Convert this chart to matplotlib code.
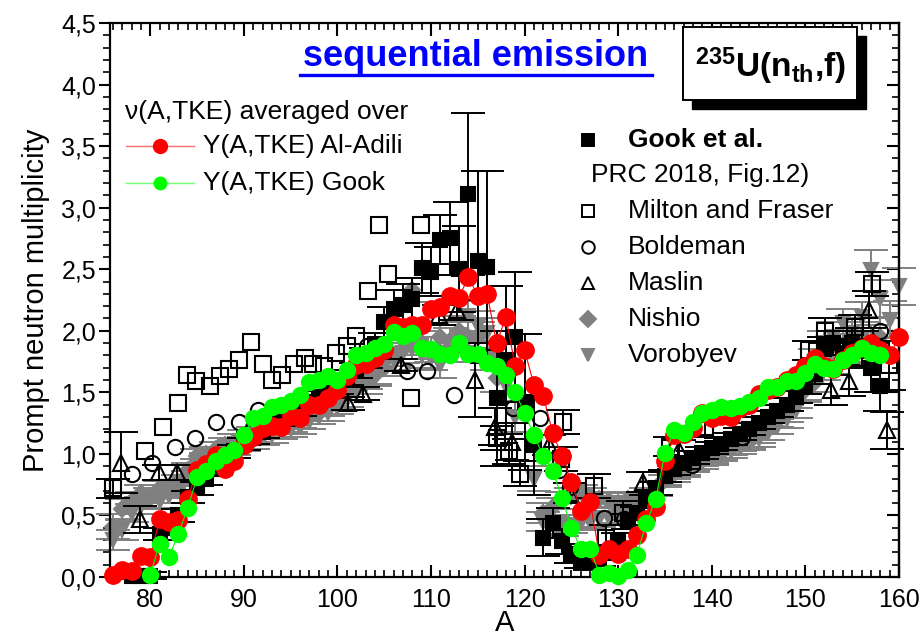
import numpy as np
import matplotlib
matplotlib.use("Agg")
import matplotlib.pyplot as plt
from matplotlib.ticker import MultipleLocator, FuncFormatter
from matplotlib.patches import Rectangle
from matplotlib.lines import Line2D

plt.rcParams["font.family"] = ["Liberation Sans", "DejaVu Sans"]
plt.rcParams["mathtext.fontset"] = "custom"
plt.rcParams["mathtext.rm"] = "Liberation Sans"
plt.rcParams["mathtext.bf"] = "Liberation Sans:bold"

# nu(A) averaged over Y(A,TKE) of Al-Adili
a_adili = list(range(76, 161))
nu_adili = [0.02, 0.06, 0.05, 0.17, 0.16, 0.47, 0.45, 0.46, 0.63, 0.87,
            0.92, 0.99, 0.88, 0.94, 1.07, 1.14, 1.21, 1.23, 1.22, 1.31,
            1.29, 1.40, 1.40, 1.45, 1.52, 1.63, 1.72, 1.73, 1.78, 1.84,
            2.05, 2.03, 2.05, 2.05, 2.18, 2.19, 2.28, 2.27, 2.44, 2.28,
            2.30, 1.90, 2.11, 1.71, 1.84, 1.56, 1.47, 1.17, 0.98, 0.77,
            0.54, 0.61, 0.18, 0.23, 0.19, 0.23, 0.34, 0.47, 0.57, 0.94,
            1.15, 1.16, 1.21, 1.33, 1.29, 1.31, 1.30, 1.37, 1.40, 1.49,
            1.52, 1.54, 1.60, 1.64, 1.71, 1.78, 1.71, 1.69, 1.76, 1.82,
            1.86, 1.90, 1.84, 1.80, 1.95]

# nu(A) averaged over Y(A,TKE) of Gook
a_gook_y = list(range(80, 159))
nu_gook_y = [0.02, 0.27, 0.16, 0.35, 0.56, 0.81, 0.86, 0.94, 0.99, 1.03,
             1.15, 1.29, 1.31, 1.38, 1.40, 1.43, 1.48, 1.58, 1.60, 1.63,
             1.60, 1.68, 1.80, 1.82, 1.86, 1.89, 1.99, 1.96, 1.98, 1.86,
             1.85, 1.81, 1.80, 1.90, 1.81, 1.81, 1.74, 1.71, 1.64, 1.50,
             1.33, 1.15, 0.98, 0.86, 0.64, 0.40, 0.23, 0.23, 0.02, 0.03,
             0.01, 0.06, 0.18, 0.44, 0.63, 1.01, 1.19, 1.17, 1.26, 1.33,
             1.36, 1.38, 1.37, 1.39, 1.42, 1.45, 1.54, 1.54, 1.59, 1.59,
             1.66, 1.73, 1.70, 1.69, 1.76, 1.80, 1.86, 1.82, 1.80]

# Gook et al. PRC 2018
a_exp = list(range(78, 159))
nu_exp = [0.01, 0.01, 0.01, 0.35, 0.40, 0.50, 0.65, 0.72, 0.80, 0.88,
          0.95, 1.02, 1.08, 1.13, 1.18, 1.25, 1.28, 1.32, 1.36, 1.42,
          1.46, 1.50, 1.55, 1.62, 1.68, 1.78, 1.88, 2.07, 2.18, 2.21,
          2.26, 2.51, 2.48, 2.74, 2.75, 2.50, 3.11, 2.57, 2.52, 1.45,
          1.76, 1.95, 1.42, 1.07, 0.32, 0.44, 0.29, 0.19, 0.15, 0.12,
          0.15, 0.20, 0.30, 0.45, 0.52, 0.62, 0.72, 0.82, 0.88, 0.93,
          0.97, 1.01, 1.05, 1.08, 1.12, 1.16, 1.20, 1.25, 1.30, 1.35,
          1.40, 1.46, 1.55, 1.65, 1.85, 1.90, 1.82, 1.90, 1.85, 1.70,
          1.55]
err_exp = [0.03, 0.03, 0.03, 0.05, 0.05, 0.05, 0.05, 0.05, 0.05, 0.05,
           0.05, 0.05, 0.05, 0.05, 0.05, 0.05, 0.05, 0.05, 0.05, 0.05,
           0.05, 0.05, 0.06, 0.06, 0.06, 0.08, 0.10, 0.12, 0.15, 0.17,
           0.17, 0.20, 0.20, 0.20, 0.30, 0.35, 0.66, 0.73, 0.78, 0.55,
           0.60, 0.53, 0.55, 0.40, 0.15, 0.12, 0.10, 0.08, 0.08, 0.06,
           0.06, 0.06, 0.06, 0.06, 0.05, 0.05, 0.05, 0.05, 0.05, 0.05,
           0.05, 0.05, 0.05, 0.05, 0.05, 0.05, 0.05, 0.05, 0.05, 0.05,
           0.05, 0.05, 0.06, 0.08, 0.10, 0.10, 0.10, 0.12, 0.15, 0.20,
           0.20]

# Milton and Fraser
a_milton = [76.0, 79.4, 81.4, 83.0, 83.9, 84.9, 86.4, 87.4, 88.4, 89.5,
            90.8, 92.1, 93.0, 94.1, 95.4, 96.5, 97.4, 98.6, 99.9, 101.0,
            102.0, 103.3, 104.4, 105.4, 107.9, 108.9, 117.1, 118.3, 119.5, 123.9,
            124.1, 127.4, 128.7, 130.5, 135.5, 139.3, 150.4, 152.1, 155.3, 157.1,
            158.9]
nu_milton = [0.72, 1.02, 1.22, 1.41, 1.64, 1.59, 1.55, 1.63, 1.69, 1.76,
             1.91, 1.73, 1.60, 1.64, 1.73, 1.78, 1.73, 1.71, 1.82, 1.88,
             1.96, 2.32, 2.86, 2.46, 1.45, 2.86, 1.13, 1.02, 0.84, 0.96,
             1.26, 0.74, 0.32, 0.52, 1.06, 1.22, 1.84, 2.00, 2.03, 2.38,
             1.72]
err_milton = [0.08, 0.0, 0.0, 0.0, 0.0, 0.0, 0.0, 0.0, 0.0, 0.0,
              0.0, 0.0, 0.0, 0.0, 0.0, 0.0, 0.0, 0.0, 0.0, 0.0,
              0.0, 0.0, 0.0, 0.0, 0.0, 0.0, 0.10, 0.10, 0.10, 0.10,
              0.10, 0.10, 0.10, 0.10, 0.08, 0.08, 0.08, 0.10, 0.10, 0.10,
              0.20]

# Boldeman
a_bold = [78.0, 80.2, 82.6, 84.8, 87.0, 89.5, 91.5, 103.2, 107.4, 109.6,
          112.5, 118.8, 121.6, 123.7, 124.8, 128.5, 130.6, 137.9, 143.2, 158.0]
nu_bold = [0.84, 0.93, 1.06, 1.13, 1.26, 1.26, 1.36, 1.88, 1.67, 1.67,
           1.48, 1.37, 1.29, 0.87, 0.73, 0.48, 0.47, 0.91, 1.14, 2.00]

# Maslin
a_maslin = [76.9, 78.9, 80.9, 82.9, 101.1, 102.7, 106.8, 110.9, 112.8, 114.7,
            116.8, 118.7, 122.6, 124.8, 132.6, 136.5, 152.7, 154.7, 156.8, 158.7]
nu_maslin = [0.93, 0.47, 0.85, 0.85, 1.41, 1.49, 1.72, 2.13, 2.17, 1.60,
             1.22, 1.10, 1.07, 0.68, 0.77, 1.03, 1.52, 1.59, 2.17, 1.19]
err_maslin = [0.25, 0.11, 0.06, 0.06, 0.05, 0.05, 0.05, 0.08, 0.08, 0.30,
              0.15, 0.15, 0.08, 0.08, 0.08, 0.08, 0.12, 0.12, 0.15, 0.15]

# Nishio
a_nishio = list(range(76, 118)) + list(range(122, 159))
nu_nishio = [0.41, 0.55, 0.62, 0.68, 0.66, 0.72, 0.73, 0.77, 0.87, 0.98,
             1.00, 1.04, 1.07, 1.10, 1.13, 1.16, 1.18, 1.20, 1.22, 1.24,
             1.27, 1.30, 1.33, 1.37, 1.43, 1.50, 1.55, 1.60, 1.64, 1.70,
             1.79, 1.85, 2.33, 1.90, 1.85, 1.95, 1.92, 2.00, 1.95, 1.95,
             1.80, 1.62,
             0.52, 0.57, 0.62, 0.66, 0.69, 0.66, 0.63, 0.62, 0.60, 0.63,
             0.62, 0.66, 0.72,
             0.80, 0.85, 0.88, 0.92, 0.95, 0.98, 1.01, 1.04, 1.07, 1.10,
             1.15, 1.22, 1.28, 1.33, 1.44, 1.52, 1.58, 1.70, 1.75, 1.80,
             1.85, 1.95, 1.90, 1.95]
err_nishio = [0.10, 0.08, 0.07, 0.07, 0.06, 0.06, 0.06, 0.06, 0.06, 0.06,
              0.06, 0.06, 0.06, 0.06, 0.06, 0.06, 0.06, 0.06, 0.06, 0.06,
              0.06, 0.06, 0.06, 0.06, 0.06, 0.06, 0.06, 0.07, 0.07, 0.07,
              0.08, 0.08, 0.10, 0.10, 0.10, 0.10, 0.10, 0.12, 0.12, 0.12,
              0.12, 0.12,
              0.08, 0.07, 0.07, 0.06, 0.06, 0.06, 0.06, 0.06, 0.06, 0.06,
              0.06, 0.06, 0.06,
              0.05, 0.05, 0.05, 0.05, 0.05, 0.05, 0.05, 0.05, 0.05, 0.05,
              0.06, 0.06, 0.06, 0.07, 0.07, 0.08, 0.08, 0.10, 0.10, 0.10,
              0.12, 0.12, 0.15, 0.15]

# Vorobyev
a_vorob = list(range(76, 120)) + list(range(121, 133)) + list(range(135, 161))
nu_vorob = [0.30, 0.38, 0.52, 0.58, 0.62, 0.62, 0.66, 0.70, 0.80, 0.90,
            0.95, 0.98, 1.00, 1.05, 1.08, 1.10, 1.13, 1.15, 1.18, 1.20,
            1.22, 1.26, 1.30, 1.33, 1.38, 1.44, 1.50, 1.56, 1.62, 1.70,
            1.76, 1.82, 1.85, 1.80, 1.78, 1.72, 1.85, 1.95, 2.12, 2.04,
            1.98, 1.80, 1.55, 1.30,
            0.80, 0.45, 0.42, 0.40, 0.42, 0.44, 0.45, 0.47, 0.48, 0.50,
            0.52, 0.55,
            0.78, 0.82, 0.86, 0.90, 0.93, 0.96, 0.99, 1.02, 1.05, 1.08,
            1.12, 1.17, 1.22, 1.28, 1.36, 1.50, 1.75, 1.90, 1.95, 2.06,
            1.98, 2.11, 2.49, 2.26, 2.09, 2.36]
err_vorob = [0.08, 0.08, 0.07, 0.07, 0.07, 0.06, 0.06, 0.06, 0.06, 0.06,
             0.06, 0.06, 0.06, 0.06, 0.06, 0.06, 0.06, 0.06, 0.06, 0.06,
             0.06, 0.06, 0.06, 0.06, 0.06, 0.06, 0.06, 0.07, 0.07, 0.07,
             0.08, 0.08, 0.08, 0.10, 0.10, 0.10, 0.10, 0.12, 0.12, 0.12,
             0.12, 0.12, 0.12, 0.12,
             0.10, 0.08, 0.07, 0.07, 0.06, 0.06, 0.06, 0.06, 0.06, 0.06,
             0.06, 0.06,
             0.05, 0.05, 0.05, 0.05, 0.05, 0.05, 0.05, 0.05, 0.05, 0.05,
             0.06, 0.06, 0.06, 0.07, 0.07, 0.08, 0.10, 0.10, 0.12, 0.12,
             0.12, 0.12, 0.17, 0.15, 0.15, 0.15]

RED = "#ff0000"
GREEN = "#00ff00"
GREY = "#808080"

W, H = 921, 636
fig = plt.figure(figsize=(W / 100, H / 100), dpi=100)
AX_L, AX_R, AX_T, AX_B = 110, 899, 23, 577
ax = fig.add_axes([AX_L / W, 1 - AX_B / H, (AX_R - AX_L) / W, (AX_B - AX_T) / H])
ax.set_xlim(75.7, 160)
ax.set_ylim(0, 4.5)


def px_ax(px, py):
    # pixel position -> axes fraction
    return (px - AX_L) / (AX_R - AX_L), (AX_B - py) / (AX_B - AX_T)


def px_fig(px, py):
    return px / W, 1 - py / H


def err_plot(x, y, e, color, marker, ms, filled, zo):
    x = np.asarray(x, float)
    y = np.asarray(y, float)
    e = np.asarray(e, float)
    has = e > 0
    if has.any():
        ax.errorbar(x[has], y[has], yerr=e[has], fmt="none", ecolor=color,
                    elinewidth=1.4, capsize=12, capthick=1.4, zorder=zo,
                    clip_on=False)
    ax.plot(x, y, ls="none", marker=marker, ms=ms, color=color,
            mfc=color if filled else "none", mec=color, mew=1.5,
            zorder=zo + 0.1, clip_on=False)


err_plot(a_vorob, nu_vorob, err_vorob, GREY, "v", 10, True, 2)
err_plot(a_nishio, nu_nishio, err_nishio, GREY, "D", 8, True, 2.2)
err_plot(a_maslin, nu_maslin, err_maslin, "black", "^", 12, False, 3)
err_plot(a_bold, nu_bold, [0] * len(a_bold), "black", "o", 11, False, 3.2)
err_plot(a_milton, nu_milton, err_milton, "black", "s", 11, False, 3.4)
err_plot(a_exp, nu_exp, err_exp, "black", "s", 9.5, True, 4)

ax.plot(a_adili, nu_adili, "-", color=RED, lw=0.8, marker="o", ms=12.5,
        mfc=RED, mec=RED, zorder=5, clip_on=False)
ax.plot(a_gook_y, nu_gook_y, "-", color=GREEN, lw=0.8, marker="o", ms=11.5,
        mfc=GREEN, mec=GREEN, zorder=6, clip_on=False)

# axes, ticks
for s in ax.spines.values():
    s.set_linewidth(1.6)
ax.xaxis.set_major_locator(MultipleLocator(10))
ax.xaxis.set_minor_locator(MultipleLocator(1))
ax.yaxis.set_major_locator(MultipleLocator(0.5))
ax.yaxis.set_minor_locator(MultipleLocator(0.1))
ax.yaxis.set_major_formatter(FuncFormatter(lambda v, p: f"{v:.1f}".replace(".", ",")))
ax.tick_params(axis="x", which="both", direction="in", top=True, labelsize=18, pad=8)
ax.tick_params(axis="x", which="major", length=9, width=1.5)
ax.tick_params(axis="x", which="minor", length=5, width=1.2)
ax.tick_params(axis="y", which="both", direction="out", right=False, labelsize=18, pad=2)
ax.tick_params(axis="y", which="major", length=8, width=1.5)
ax.tick_params(axis="y", which="minor", length=5, width=1.2)

sec = ax.secondary_yaxis("right")
sec.yaxis.set_major_locator(MultipleLocator(0.5))
sec.yaxis.set_minor_locator(MultipleLocator(0.1))
sec.tick_params(which="both", direction="in", labelright=False)
sec.tick_params(which="major", length=9, width=1.5)
sec.tick_params(which="minor", length=5, width=1.2)
sec.spines["right"].set_linewidth(1.6)

ax.set_xlabel("A", fontsize=21)
ax.xaxis.set_label_coords(0.5, (AX_B - 609) / (AX_B - AX_T))
ax.set_ylabel("Prompt neutron multiplicity", fontsize=21)
ax.yaxis.set_label_coords((50 - AX_L) / (AX_R - AX_L), 0.5)

# title with underline
fig.text(*px_fig(476, 56), "sequential emission", color="#0000ff", fontsize=26,
         fontweight="bold", ha="center", va="center")
fig.add_artist(Line2D([300 / W, 652 / W], [1 - 75 / H, 1 - 75 / H],
                      color="#0000ff", lw=2.4))

# reaction label box with shadow
bx0, by0, bx1, by1 = 683, 27, 857, 100
fig.add_artist(Rectangle(px_fig(bx0 + 9, by1 + 9), (bx1 - bx0) / W, (by1 - by0) / H,
                         facecolor="black", edgecolor="black", zorder=8))
fig.add_artist(Rectangle(px_fig(bx0, by1), (bx1 - bx0) / W, (by1 - by0) / H,
                         facecolor="white", edgecolor="black", lw=1.4, zorder=9))
fig.text(*px_fig((bx0 + bx1) / 2, 66), r"$\mathbf{^{235}U(n_{th}{,}f)}$",
         fontsize=24, ha="center", va="center", zorder=10)

# left legend
ax.text(*px_ax(125, 112), "\u03bd(A,TKE) averaged over", transform=ax.transAxes,
        fontsize=19, ha="left", va="center", zorder=7)
for py, col, lcol, label, ms in [(146, RED, "#ff7070", "Y(A,TKE) Al-Adili", 10),
                                 (183, GREEN, "#70ff70", "Y(A,TKE) Gook", 9)]:
    x0, y0 = px_ax(126, py)
    x1, _ = px_ax(194, py)
    xm, _ = px_ax(160, py)
    ax.plot([x0, x1], [y0, y0], color=lcol, lw=1.0, transform=ax.transAxes, zorder=7)
    ax.plot([xm], [y0], "o", color=col, ms=ms, transform=ax.transAxes, zorder=7)
    ax.text(*px_ax(203, py), label, transform=ax.transAxes, fontsize=19,
            ha="left", va="center", zorder=7)

# right legend
rows = [(140, "s", "black", True, 8, "Gook et al.", "bold"),
        (211, "s", "black", False, 9, "Milton and Fraser", "normal"),
        (247, "o", "black", False, 9, "Boldeman", "normal"),
        (283, "^", "black", False, 9, "Maslin", "normal"),
        (319, "D", GREY, True, 8, "Nishio", "normal"),
        (355, "v", GREY, True, 9, "Vorobyev", "normal")]
for py, mk, col, filled, ms, label, fw in rows:
    ax.plot(*px_ax(588, py), marker=mk, ms=ms, color=col,
            mfc=col if filled else "none", mec=col, mew=1.4,
            transform=ax.transAxes, zorder=7)
    ax.text(*px_ax(628, py), label, transform=ax.transAxes, fontsize=19,
            fontweight=fw, ha="left", va="center", zorder=7)
ax.text(*px_ax(591, 175), "PRC 2018, Fig.12)", transform=ax.transAxes,
        fontsize=19, ha="left", va="center", zorder=7)

fig.savefig("out.png", dpi=100)
